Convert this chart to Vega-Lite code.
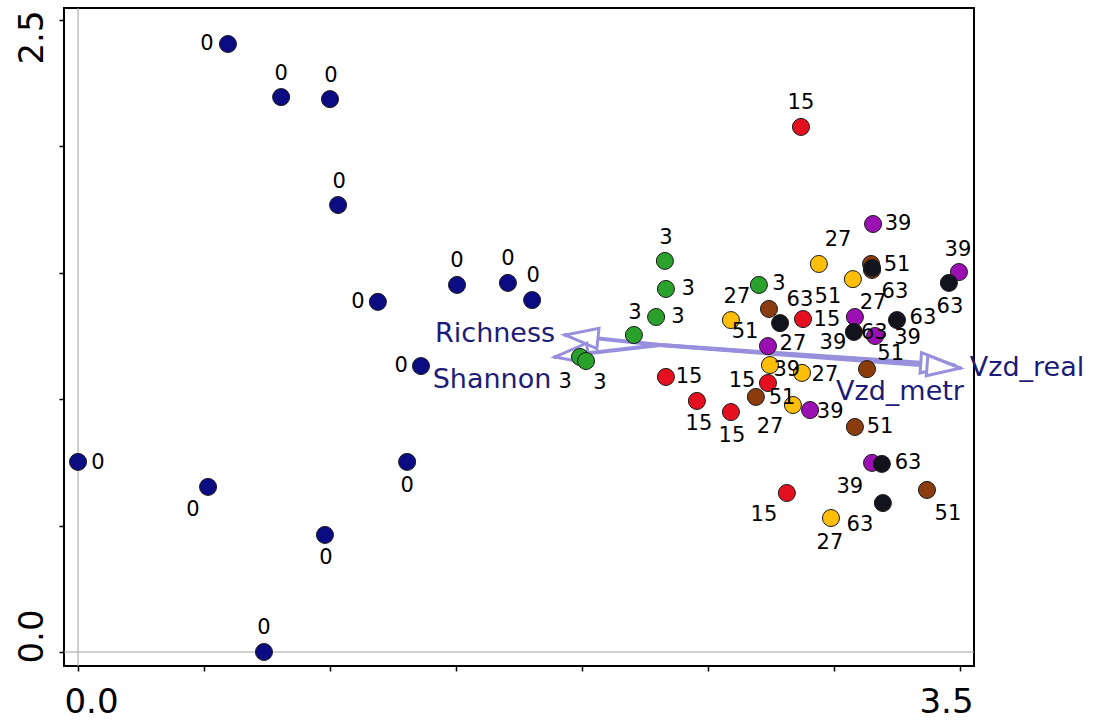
{
  "$schema": "https://vega.github.io/schema/vega-lite/v6.json",
  "width": 910,
  "height": 658,
  "autosize": "none",
  "padding": {"left": 64, "top": 8, "right": 123, "bottom": 54},
  "background": "white",
  "config": {
    "view": {"stroke": "black", "strokeWidth": 2},
    "font": "DejaVu Sans"
  },
  "datasets": {
    "sites": [
      {"group": 0, "x": 0.595, "y": 2.405, "lx": 0.512, "ly": 2.405},
      {"group": 0, "x": 0.806, "y": 2.195, "lx": 0.806, "ly": 2.286},
      {"group": 0, "x": 1.000, "y": 2.187, "lx": 1.004, "ly": 2.278},
      {"group": 0, "x": 1.032, "y": 1.768, "lx": 1.036, "ly": 1.859},
      {"group": 0, "x": 1.190, "y": 1.385, "lx": 1.111, "ly": 1.385},
      {"group": 0, "x": 1.504, "y": 1.452, "lx": 1.504, "ly": 1.547},
      {"group": 0, "x": 1.706, "y": 1.460, "lx": 1.706, "ly": 1.555},
      {"group": 0, "x": 1.802, "y": 1.392, "lx": 1.806, "ly": 1.487},
      {"group": 0, "x": 1.361, "y": 1.131, "lx": 1.282, "ly": 1.131},
      {"group": 0, "x": 0.000, "y": 0.752, "lx": 0.079, "ly": 0.748},
      {"group": 0, "x": 0.516, "y": 0.653, "lx": 0.456, "ly": 0.562},
      {"group": 0, "x": 1.306, "y": 0.752, "lx": 1.306, "ly": 0.657},
      {"group": 0, "x": 0.980, "y": 0.463, "lx": 0.984, "ly": 0.372},
      {"group": 0, "x": 0.738, "y": 0.000, "lx": 0.738, "ly": 0.095},
      {"group": 3, "x": 2.329, "y": 1.547, "lx": 2.333, "ly": 1.638},
      {"group": 3, "x": 2.333, "y": 1.436, "lx": 2.421, "ly": 1.436},
      {"group": 3, "x": 2.294, "y": 1.325, "lx": 2.381, "ly": 1.325},
      {"group": 3, "x": 2.206, "y": 1.254, "lx": 2.210, "ly": 1.341},
      {"group": 3, "x": 1.992, "y": 1.167, "lx": 1.933, "ly": 1.068},
      {"group": 3, "x": 2.016, "y": 1.151, "lx": 2.071, "ly": 1.064},
      {"group": 3, "x": 2.702, "y": 1.452, "lx": 2.782, "ly": 1.456},
      {"group": 15, "x": 2.869, "y": 2.077, "lx": 2.869, "ly": 2.172},
      {"group": 15, "x": 2.877, "y": 1.317, "lx": 2.972, "ly": 1.313},
      {"group": 15, "x": 2.333, "y": 1.088, "lx": 2.425, "ly": 1.088},
      {"group": 15, "x": 2.456, "y": 0.993, "lx": 2.464, "ly": 0.902},
      {"group": 15, "x": 2.591, "y": 0.949, "lx": 2.595, "ly": 0.854},
      {"group": 15, "x": 2.738, "y": 1.064, "lx": 2.635, "ly": 1.072},
      {"group": 15, "x": 2.813, "y": 0.629, "lx": 2.722, "ly": 0.542},
      {"group": 27, "x": 2.591, "y": 1.313, "lx": 2.615, "ly": 1.404},
      {"group": 27, "x": 2.940, "y": 1.535, "lx": 3.016, "ly": 1.630},
      {"group": 27, "x": 3.075, "y": 1.475, "lx": 3.155, "ly": 1.381},
      {"group": 27, "x": 2.746, "y": 1.135, "lx": 2.837, "ly": 1.218},
      {"group": 27, "x": 2.873, "y": 1.104, "lx": 2.964, "ly": 1.096},
      {"group": 27, "x": 2.837, "y": 0.977, "lx": 2.746, "ly": 0.890},
      {"group": 27, "x": 2.988, "y": 0.530, "lx": 2.984, "ly": 0.431},
      {"group": 39, "x": 3.155, "y": 1.693, "lx": 3.254, "ly": 1.693},
      {"group": 39, "x": 3.496, "y": 1.503, "lx": 3.492, "ly": 1.590},
      {"group": 39, "x": 3.083, "y": 1.325, "lx": 2.996, "ly": 1.222},
      {"group": 39, "x": 3.163, "y": 1.250, "lx": 3.292, "ly": 1.242},
      {"group": 39, "x": 2.738, "y": 1.210, "lx": 2.813, "ly": 1.116},
      {"group": 39, "x": 2.905, "y": 0.957, "lx": 2.985, "ly": 0.950},
      {"group": 39, "x": 3.151, "y": 0.748, "lx": 3.063, "ly": 0.653},
      {"group": 51, "x": 2.742, "y": 1.357, "lx": 2.647, "ly": 1.266},
      {"group": 51, "x": 3.147, "y": 1.535, "lx": 3.250, "ly": 1.531},
      {"group": 51, "x": 3.131, "y": 1.119, "lx": 3.225, "ly": 1.178},
      {"group": 51, "x": 2.690, "y": 1.009, "lx": 2.794, "ly": 1.005},
      {"group": 51, "x": 3.083, "y": 0.890, "lx": 3.183, "ly": 0.890},
      {"group": 51, "x": 3.369, "y": 0.641, "lx": 3.452, "ly": 0.546},
      {"group": 51, "x": 3.151, "y": 1.511, "lx": 2.976, "ly": 1.404},
      {"group": 63, "x": 2.786, "y": 1.301, "lx": 2.865, "ly": 1.392},
      {"group": 63, "x": 3.151, "y": 1.519, "lx": 3.242, "ly": 1.424},
      {"group": 63, "x": 3.456, "y": 1.460, "lx": 3.460, "ly": 1.365},
      {"group": 63, "x": 3.079, "y": 1.266, "lx": 3.160, "ly": 1.262},
      {"group": 63, "x": 3.250, "y": 1.313, "lx": 3.353, "ly": 1.322},
      {"group": 63, "x": 3.190, "y": 0.744, "lx": 3.294, "ly": 0.748},
      {"group": 63, "x": 3.194, "y": 0.589, "lx": 3.103, "ly": 0.502}
    ],
    "vectors": [
      {"name": "Richness", "x0": 2.310, "y0": 1.214, "x1": 1.933, "y1": 1.254, "lx": 1.655, "ly": 1.258},
      {"name": "Shannon", "x0": 2.310, "y0": 1.214, "x1": 1.893, "y1": 1.167, "lx": 1.643, "ly": 1.076},
      {"name": "Vzd_metr", "x0": 2.310, "y0": 1.214, "x1": 3.475, "y1": 1.135, "lx": 3.262, "ly": 1.028},
      {"name": "Vzd_real", "x0": 2.310, "y0": 1.214, "x1": 3.500, "y1": 1.123, "lx": 3.766, "ly": 1.123}
    ]
  },
  "layer": [
    {
      "data": {"values": [{"origin": 0}]},
      "mark": {"type": "rule", "color": "#a0a0a0", "strokeWidth": 1},
      "encoding": {
        "x": {"field": "origin", "type": "quantitative", "scale": {"domain": [-0.0556, 3.5556], "nice": false, "zero": false}}
      }
    },
    {
      "data": {"values": [{"origin": 0}]},
      "mark": {"type": "rule", "color": "#a0a0a0", "strokeWidth": 1},
      "encoding": {
        "y": {"field": "origin", "type": "quantitative", "scale": {"domain": [-0.0554, 2.5475], "nice": false, "zero": false}}
      }
    },
    {
      "data": {"name": "vectors"},
      "mark": {"type": "rule", "color": "#9890dc", "strokeWidth": 4, "strokeCap": "round"},
      "encoding": {
        "x": {"field": "x0", "type": "quantitative", "scale": {"domain": [-0.0556, 3.5556], "nice": false, "zero": false}},
        "y": {"field": "y0", "type": "quantitative", "scale": {"domain": [-0.0554, 2.5475], "nice": false, "zero": false}},
        "x2": {"field": "x1"},
        "y2": {"field": "y1"}
      }
    },
    {
      "data": {"name": "vectors"},
      "transform": [
        {"calculate": "atan2(-(datum.y1 - datum.y0), datum.x1 - datum.x0) * 180 / PI", "as": "heading"}
      ],
      "mark": {
        "type": "point",
        "shape": "M0,0L-2,-0.62L-2,0.62Z",
        "size": 1089,
        "filled": false,
        "fill": "white",
        "fillOpacity": 1,
        "stroke": "#9890dc",
        "strokeWidth": 3,
        "strokeJoin": "miter",
        "opacity": 1
      },
      "encoding": {
        "x": {"field": "x1", "type": "quantitative", "scale": {"domain": [-0.0556, 3.5556], "nice": false, "zero": false}},
        "y": {"field": "y1", "type": "quantitative", "scale": {"domain": [-0.0554, 2.5475], "nice": false, "zero": false}},
        "angle": {"field": "heading", "type": "quantitative", "scale": null}
      }
    },
    {
      "data": {"name": "sites"},
      "mark": {"type": "point", "filled": true, "size": 290, "stroke": "#1a1a1a", "strokeWidth": 1, "opacity": 1},
      "encoding": {
        "x": {
          "field": "x", "type": "quantitative",
          "scale": {"domain": [-0.0556, 3.5556], "nice": false, "zero": false},
          "axis": {
            "title": null, "grid": false, "domain": false,
            "values": [0, 0.5, 1, 1.5, 2, 2.5, 3, 3.5],
            "labelExpr": "datum.value === 0 || datum.value === 3.5 ? format(datum.value, '.1f') : ''",
            "tickColor": "black", "tickSize": 5, "tickWidth": 1.5,
            "labelFont": "DejaVu Sans", "labelFontSize": 34, "labelColor": "black",
            "labelPadding": 14, "labelBaseline": "top", "labelAlign": "center",
            "labelOffset": {"condition": {"test": "datum.value < 1", "value": 13}, "value": -14},
            "labelFlush": false, "labelOverlap": false, "labelBound": false
          }
        },
        "y": {
          "field": "y", "type": "quantitative",
          "scale": {"domain": [-0.0554, 2.5475], "nice": false, "zero": false},
          "axis": {
            "title": null, "grid": false, "domain": false,
            "values": [0, 0.5, 1, 1.5, 2, 2.5],
            "labelExpr": "datum.value === 0 || datum.value === 2.5 ? format(datum.value, '.1f') : ''",
            "tickColor": "black", "tickSize": 5, "tickWidth": 1.5,
            "labelFont": "DejaVu Sans", "labelFontSize": 34, "labelColor": "black",
            "labelAngle": 270, "labelAlign": "center", "labelBaseline": "alphabetic",
            "labelPadding": 17,
            "labelOffset": {"condition": {"test": "datum.value < 1", "value": -16}, "value": 17},
            "labelFlush": false, "labelOverlap": false, "labelBound": false
          }
        },
        "fill": {
          "field": "group", "type": "nominal",
          "scale": {
            "domain": [0, 3, 15, 27, 39, 51, 63],
            "range": ["#0c0c82", "#2aa12a", "#e5101f", "#ffbe0a", "#9a10b2", "#8a3c0e", "#12131c"]
          },
          "legend": null
        }
      }
    },
    {
      "data": {"name": "sites"},
      "mark": {"type": "text", "font": "DejaVu Sans", "fontSize": 21, "color": "black", "align": "center", "baseline": "middle"},
      "encoding": {
        "x": {"field": "lx", "type": "quantitative", "scale": {"domain": [-0.0556, 3.5556], "nice": false, "zero": false}},
        "y": {"field": "ly", "type": "quantitative", "scale": {"domain": [-0.0554, 2.5475], "nice": false, "zero": false}},
        "text": {"field": "group", "type": "nominal"}
      }
    },
    {
      "data": {"name": "vectors"},
      "mark": {"type": "text", "font": "DejaVu Sans", "fontSize": 27, "color": "#1c1c78", "align": "center", "baseline": "middle"},
      "encoding": {
        "x": {"field": "lx", "type": "quantitative", "scale": {"domain": [-0.0556, 3.5556], "nice": false, "zero": false}},
        "y": {"field": "ly", "type": "quantitative", "scale": {"domain": [-0.0554, 2.5475], "nice": false, "zero": false}},
        "text": {"field": "name", "type": "nominal"}
      }
    }
  ]
}
